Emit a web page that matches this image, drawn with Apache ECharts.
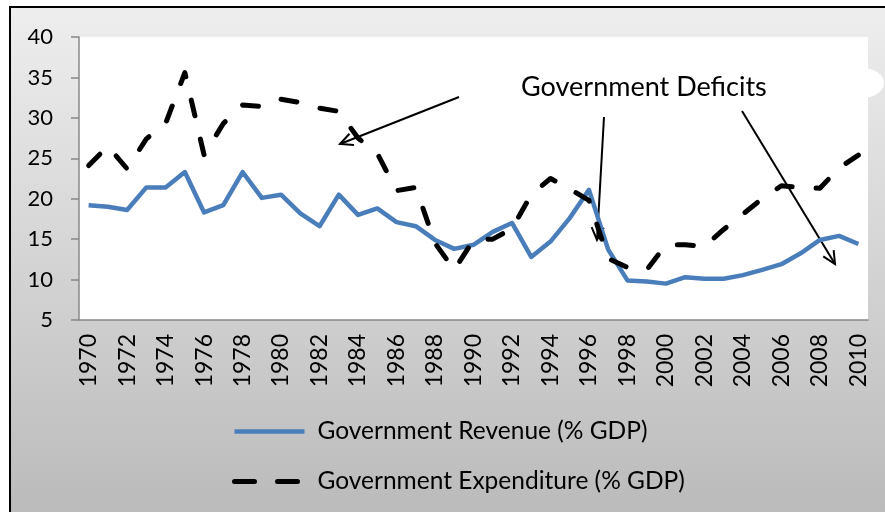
<!DOCTYPE html>
<html>
<head>
<meta charset="utf-8">
<script src="https://cdn.jsdelivr.net/npm/echarts@6/dist/echarts.min.js"></script>
<style>
html, body { margin: 0; padding: 0; background: #fff; }
#chart { width: 885px; height: 512px; }
</style>
</head>
<body>
<div id="chart"></div>
<script>
var years = [];
for (var y = 1970; y <= 2010; y++) years.push(String(y));

var revenue = [19.2, 19.0, 18.6, 21.4, 21.4, 23.3, 18.3, 19.2, 23.3, 20.1,
    20.5, 18.2, 16.6, 20.5, 18.0, 18.8, 17.1, 16.6, 14.9, 13.8,
    14.3, 15.9, 17.0, 12.8, 14.7, 17.6, 21.1, 13.7, 9.9, 9.75,
    9.5, 10.3, 10.1, 10.1, 10.55, 11.2, 11.9, 13.25, 14.9, 15.4, 14.4];

var expenditure = [24.1, 26.5, 23.7, 27.4, 29.3, 35.6, 25.4, 29.3, 31.6, 31.4,
    32.3, 31.9, 31.2, 30.8, 27.5, 25.6, 21.0, 21.4, 14.5, 11.2,
    14.9, 15.0, 16.3, 20.5, 22.5, 21.2, 19.8, 12.6, 11.5, 11.2,
    14.3, 14.3, 14.1, 16.2, 18.1, 20.0, 21.6, 21.4, 21.3, 23.8, 25.4];

var yTicks = { min: 5, max: 40, step: 5 };

var FONT = 'Lato';

$ready();

function $ready() {
    var echart = echarts.init(document.getElementById('chart'));
    var option = {
        animation: false,
        textStyle: { fontFamily: FONT },
        grid: {
            left: 79,
            right: 17,
            top: 37,
            bottom: 192,
            show: true,
            backgroundColor: '#fff',
            borderWidth: 0
        },
        graphic: [
            {
                type: 'rect',
                z: -10,
                shape: { x: 10, y: 7, width: 900, height: 530 },
                style: {
                    fill: {
                        type: 'linear', x: 0, y: 0, x2: 0, y2: 1,
                        colorStops: [
                            { offset: 0, color: '#eeeeee' },
                            { offset: 1, color: '#b8b8b8' }
                        ]
                    },
                    stroke: '#000',
                    lineWidth: 2
                }
            },
            {
                type: 'ellipse',
                z: -5,
                shape: { cx: 862, cy: 83, rx: 22, ry: 15 },
                style: { fill: '#fff' }
            },
            {
                type: 'text',
                left: 521,
                top: 74,
                style: { text: 'Government Deficits', font: '27px ' + FONT, fill: '#000' }
            },
            arrow(459, 97, 340, 144),
            arrow(604, 117, 597, 240),
            arrow(742, 111, 835, 264)
        ],
        legend: {
            orient: 'vertical',
            left: 232,
            top: 419,
            padding: 0,
            itemWidth: 70,
            itemHeight: 14,
            itemGap: 25,
            itemStyle: { opacity: 0 },
            textStyle: { fontSize: 24.5, color: '#000', fontFamily: FONT, padding: [0, 0, 0, 8] },
            data: [
                { name: 'Government Revenue (% GDP)', lineStyle: { width: 4.5, cap: 'butt' } },
                { name: 'Government Expenditure (% GDP)', lineStyle: { width: 5, type: [20, 23], cap: 'round' } }
            ]
        },
        xAxis: {
            type: 'category',
            data: years,
            axisLine: { lineStyle: { color: '#888', width: 1.5 } },
            axisTick: { interval: 0, length: 7, lineStyle: { color: '#888', width: 1.5 } },
            axisLabel: {
                interval: 1,
                rotate: 90,
                margin: 14,
                fontSize: 23,
                color: '#000',
                fontFamily: FONT
            }
        },
        yAxis: {
            type: 'value',
            min: yTicks.min,
            max: yTicks.max,
            interval: yTicks.step,
            splitLine: { show: false },
            axisLine: { show: true, lineStyle: { color: '#888', width: 1.5 } },
            axisTick: { show: true, length: 8, lineStyle: { color: '#888', width: 1.5 } },
            axisLabel: { margin: 26, fontSize: 22, color: '#000', fontFamily: FONT }
        },
        series: [
            {
                name: 'Government Revenue (% GDP)',
                type: 'line',
                data: revenue,
                symbol: 'none',
                color: '#4A7EBB',
                lineStyle: { width: 4.5, color: '#4A7EBB', join: 'round' }
            },
            {
                name: 'Government Expenditure (% GDP)',
                type: 'line',
                data: expenditure,
                symbol: 'none',
                color: '#000',
                lineStyle: { width: 5, color: '#000', type: [16, 24], cap: 'round', join: 'round' }
            }
        ]
    };
    echart.setOption(option, true);
}

// annotation arrow with open head
function arrow(x1, y1, x2, y2) {
    var a = Math.atan2(y2 - y1, x2 - x1);
    var len = 14, sp = 0.45;
    var p1 = [x2 - len * Math.cos(a - sp), y2 - len * Math.sin(a - sp)];
    var p2 = [x2 - len * Math.cos(a + sp), y2 - len * Math.sin(a + sp)];
    return {
        type: 'group',
        z: 50,
        children: [
            { type: 'line', shape: { x1: x1, y1: y1, x2: x2, y2: y2 }, style: { stroke: '#000', lineWidth: 2 } },
            { type: 'polyline', shape: { points: [p1, [x2, y2], p2] }, style: { stroke: '#000', lineWidth: 2, fill: null } }
        ]
    };
}
</script>
</body>
</html>
